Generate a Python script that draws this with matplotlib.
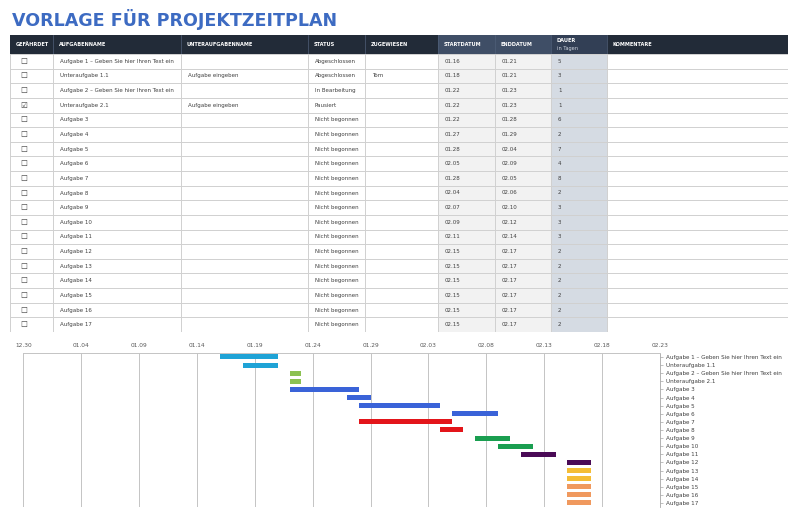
import matplotlib.pyplot as plt
import matplotlib.dates as mdates
from datetime import datetime, timedelta

# ---- data ----
at_risk = [False, False, False, True] + [False] * 15
task_names = ["Aufgabe 1 – Geben Sie hier Ihren Text ein", "Unteraufgabe 1.1",
              "Aufgabe 2 – Geben Sie hier Ihren Text ein", "Unteraufgabe 2.1"] + \
             ["Aufgabe %d" % i for i in range(3, 18)]
subtask_names = ["", "Aufgabe eingeben", "", "Aufgabe eingeben"] + [""] * 15
status = ["Abgeschlossen", "Abgeschlossen", "In Bearbeitung", "Pausiert"] + ["Nicht begonnen"] * 15
assigned = ["", "Tom"] + [""] * 17
start_dates = ["01.16", "01.18", "01.22", "01.22", "01.22", "01.27", "01.28", "02.05", "01.28",
               "02.04", "02.07", "02.09", "02.11", "02.15", "02.15", "02.15", "02.15", "02.15", "02.15"]
end_dates = ["01.21", "01.21", "01.23", "01.23", "01.28", "01.29", "02.04", "02.09", "02.05",
             "02.06", "02.10", "02.12", "02.14", "02.17", "02.17", "02.17", "02.17", "02.17", "02.17"]
duration = [5, 3, 1, 1, 6, 2, 7, 4, 8, 2, 3, 3, 3, 2, 2, 2, 2, 2, 2]

headers = ["GEFÄHRDET", "AUFGABENNAME", "UNTERAUFGABENNAME", "STATUS", "ZUGEWIESEN",
           "STARTDATUM", "ENDDATUM", "DAUER", "KOMMENTARE"]
col_edges = [10, 53, 181, 308, 365, 438, 495, 551, 607, 788]

bar_colors = ["#1fa3d6", "#1fa3d6", "#8cc152", "#8cc152",
              "#3a63d8", "#3a63d8", "#3a63d8", "#3a63d8",
              "#e3151a", "#e3151a", "#1a9e50", "#1a9e50",
              "#4a0a56", "#4a0a56", "#f4bd36", "#f4bd36",
              "#f0995e", "#f0995e", "#f0995e"]

axis_start = "12.30"
axis_end = "02.23"


def to_date(s):
    m, d = int(s[:2]), int(s[3:])
    return datetime(2023 if m == 12 else 2024, m, d)


W, H = 800, 513
fig = plt.figure(figsize=(8, 5.13), dpi=100)
plt.rcParams['font.family'] = ['DejaVu Sans']

fig.text(12 / W, 1 - 26 / H, "VORLAGE FÜR PROJEKTZEITPLAN", fontsize=12.6, fontweight='bold',
         color='#3d6bc2', va='baseline', ha='left')

# ---- table ----
n = len(task_names)
hh = 19 / ((332 - 54) / n)  # header height in row units
tab = fig.add_axes([10 / W, 1 - 332 / H, 778 / W, (332 - 35) / H])
tab.set_xlim(col_edges[0], col_edges[-1])
tab.set_ylim(n, -hh)
tab.axis('off')

head_bg = ['#222b38'] * 5 + ['#3f4e66', '#3f4e66', '#323f55', '#222b38']
cell_bg = ['white'] * 5 + ['#f2f2f2', '#f2f2f2', '#d5dbe3', 'white']
txt = '#404040'
line = '#d0d0d0'

for j, h in enumerate(headers):
    x0, x1 = col_edges[j], col_edges[j + 1]
    tab.add_patch(plt.Rectangle((x0, -hh), x1 - x0, hh, facecolor=head_bg[j], edgecolor='none'))
    tab.add_patch(plt.Rectangle((x0, 0), x1 - x0, n, facecolor=cell_bg[j], edgecolor='none'))
    if h == "DAUER":
        tab.text(x0 + 6, -hh * 0.7, h, color='white', fontsize=3.6, fontweight='bold', va='center')
        tab.text(x0 + 6, -hh * 0.3, "in Tagen", color='#d0d6e0', fontsize=3.6, va='center')
    else:
        tab.text(x0 + 6, -hh / 2, h, color='white', fontsize=3.6, fontweight='bold', va='center')

for x in col_edges:
    tab.plot([x, x], [0, n], color=line, lw=0.7)
for x in col_edges[1:-1]:
    tab.plot([x, x], [-hh, 0], color='#50607a', lw=0.5)
for i in range(n + 1):
    tab.plot([col_edges[0], col_edges[-1]], [i, i], color=line, lw=0.7)

for i in range(n):
    y = i + 0.5
    tab.text(24, y, "☑" if at_risk[i] else "☐", fontsize=5.5, color='#404040', ha='center', va='center')
    row = [task_names[i], subtask_names[i], status[i], assigned[i],
           start_dates[i], end_dates[i], str(duration[i])]
    for j, val in enumerate(row):
        tab.text(col_edges[j + 1] + 7, y, val, fontsize=4.0, color=txt, va='center')

# ---- gantt ----
gx0, gx1, gy0, gy1 = 23.3, 660, 352.5, 507
ax = fig.add_axes([gx0 / W, 1 - gy1 / H, (gx1 - gx0) / W, (gy1 - gy0) / H])
starts = [to_date(s) for s in start_dates]
ends = [to_date(s) for s in end_dates]
lefts = mdates.date2num(starts)
widths = mdates.date2num(ends) - lefts
ypos = list(range(n))
ax.barh(ypos, widths, left=lefts, height=0.62, color=bar_colors, zorder=3)

d0, d1 = to_date(axis_start), to_date(axis_end)
ax.set_xlim(mdates.date2num(d0), mdates.date2num(d1))
ax.set_ylim(n - 0.5, -0.55)
ticks = []
d = d0
while d <= d1:
    ticks.append(d)
    d += timedelta(days=5)
ax.set_xticks(mdates.date2num(ticks))
ax.xaxis.set_major_formatter(mdates.DateFormatter('%m.%d'))
ax.xaxis.tick_top()
ax.tick_params(axis='x', length=0, pad=3, labelsize=4.2, labelcolor='#595959')
ax.grid(axis='x', color='#c4c4c4', lw=0.7, zorder=0)

ax.set_yticks(ypos)
ax.set_yticklabels(task_names)
ax.yaxis.tick_right()
ax.tick_params(axis='y', length=2, width=0.5, color='#a6a6a6', pad=2, labelsize=4.1, labelcolor='#404040')

for s in ['left', 'bottom']:
    ax.spines[s].set_visible(False)
ax.spines['top'].set_color('#c4c4c4')
ax.spines['right'].set_color('#a6a6a6')
ax.spines['top'].set_linewidth(0.7)
ax.spines['right'].set_linewidth(0.6)

fig.savefig("out.png", dpi=100)
